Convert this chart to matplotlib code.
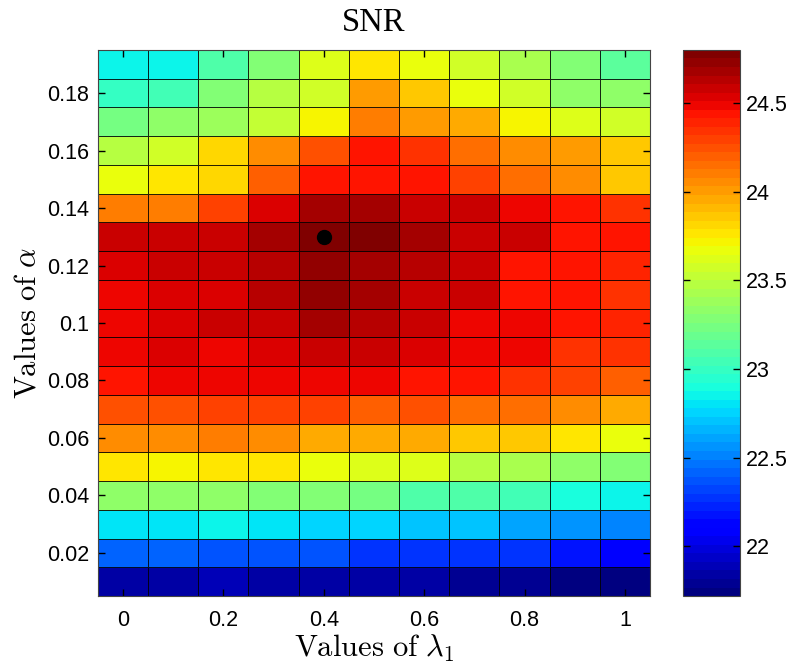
import numpy as np
import matplotlib
matplotlib.use("Agg")
import matplotlib.pyplot as plt
from matplotlib.ticker import FuncFormatter

lambdas = [0.0, 0.1, 0.2, 0.3, 0.4, 0.5, 0.6, 0.7, 0.8, 0.9, 1.0]
alphas = [0.01, 0.02, 0.03, 0.04, 0.05, 0.06, 0.07, 0.08, 0.09, 0.10,
          0.11, 0.12, 0.13, 0.14, 0.15, 0.16, 0.17, 0.18, 0.19]

# SNR values, one row per alpha (bottom to top), one column per lambda_1
snr = [
    [21.82, 21.84, 21.89, 21.86, 21.86, 21.82, 21.82, 21.79, 21.79, 21.75, 21.72],
    [22.40, 22.40, 22.39, 22.39, 22.35, 22.29, 22.25, 22.27, 22.25, 22.19, 22.07],
    [22.81, 22.81, 22.83, 22.81, 22.76, 22.74, 22.70, 22.70, 22.62, 22.57, 22.53],
    [23.34, 23.34, 23.34, 23.28, 23.28, 23.22, 23.11, 23.11, 23.06, 22.92, 22.83],
    [23.77, 23.74, 23.76, 23.76, 23.69, 23.63, 23.63, 23.49, 23.45, 23.35, 23.26],
    [24.07, 24.07, 24.11, 24.07, 23.94, 23.96, 23.96, 23.86, 23.84, 23.75, 23.69],
    [24.25, 24.27, 24.30, 24.30, 24.30, 24.21, 24.25, 24.15, 24.15, 24.07, 23.96],
    [24.46, 24.48, 24.49, 24.49, 24.50, 24.49, 24.46, 24.42, 24.36, 24.30, 24.19],
    [24.49, 24.54, 24.51, 24.55, 24.60, 24.56, 24.55, 24.51, 24.48, 24.36, 24.36],
    [24.49, 24.54, 24.56, 24.60, 24.68, 24.63, 24.58, 24.51, 24.47, 24.42, 24.40],
    [24.49, 24.53, 24.55, 24.63, 24.71, 24.66, 24.60, 24.56, 24.46, 24.42, 24.36],
    [24.53, 24.56, 24.60, 24.63, 24.71, 24.66, 24.63, 24.58, 24.46, 24.44, 24.40],
    [24.56, 24.60, 24.60, 24.66, 24.80, 24.76, 24.66, 24.60, 24.58, 24.46, 24.42],
    [24.11, 24.11, 24.31, 24.55, 24.66, 24.66, 24.60, 24.56, 24.49, 24.46, 24.36],
    [23.69, 23.77, 23.82, 24.21, 24.46, 24.46, 24.46, 24.30, 24.15, 24.07, 23.86],
    [23.47, 23.58, 23.82, 24.07, 24.27, 24.46, 24.36, 24.15, 24.07, 24.01, 23.86],
    [23.23, 23.32, 23.40, 23.52, 23.74, 24.11, 24.01, 23.96, 23.74, 23.63, 23.56],
    [22.99, 23.06, 23.28, 23.47, 23.56, 24.02, 23.86, 23.69, 23.58, 23.32, 23.32],
    [22.83, 22.83, 23.08, 23.28, 23.64, 23.77, 23.69, 23.56, 23.41, 23.28, 23.13],
]

x_ticks = [0, 0.2, 0.4, 0.6, 0.8, 1]
y_ticks = [0.02, 0.04, 0.06, 0.08, 0.1, 0.12, 0.14, 0.16, 0.18]
cbar_ticks = [22, 22.5, 23, 23.5, 24, 24.5]

plt.rcParams["mathtext.fontset"] = "cm"
serif = "Liberation Serif"
sans = "Liberation Sans"
fmt = FuncFormatter(lambda v, p: f"{v:g}")


def main():
    data = np.array(snr)
    fig = plt.figure(figsize=(7.88, 6.66), dpi=100)
    ax = fig.add_axes([0.124, 0.105, 0.701, 0.820])
    cax = fig.add_axes([0.867, 0.105, 0.072, 0.820])

    cmap = matplotlib.colormaps["jet"].resampled(64)
    mesh = ax.pcolormesh(lambdas, alphas, data, cmap=cmap, shading="nearest",
                         edgecolors=(0, 0, 0, 0.85), linewidth=0.7)

    # mark the best setting
    i, j = np.unravel_index(np.argmax(data), data.shape)
    ax.plot(lambdas[j], alphas[i], marker="o", color="black",
            markersize=10)

    ax.set_xlim(-0.05, 1.05)
    ax.set_ylim(0.005, 0.195)
    ax.set_xticks(x_ticks)
    ax.set_yticks(y_ticks)
    ax.xaxis.set_major_formatter(fmt)
    ax.yaxis.set_major_formatter(fmt)
    ax.tick_params(direction="in", top=True, right=True, length=5,
                   width=1, labelsize=15.5)
    ax.tick_params(axis="x", pad=10)
    ax.tick_params(axis="y", pad=6)
    for lab in ax.get_xticklabels() + ax.get_yticklabels():
        lab.set_family(sans)

    ax.set_title("SNR", fontsize=23.5, family=serif, pad=14)
    ax.set_xlabel(r"$\mathrm{Values\ of\ }\lambda_1$", fontsize=22,
                  labelpad=1)
    ax.set_ylabel(r"$\mathrm{Values\ of\ }\alpha$", fontsize=22,
                  labelpad=4)
    for s in ax.spines.values():
        s.set_color("#444444")

    cb = fig.colorbar(mesh, cax=cax)
    cb.set_ticks(cbar_ticks)
    cb.ax.yaxis.set_major_formatter(fmt)
    cb.ax.tick_params(direction="in", left=True, right=True, length=5,
                      width=1, labelsize=15.5, pad=4)
    for lab in cb.ax.get_yticklabels():
        lab.set_family(sans)
    cb.outline.set_edgecolor("#444444")

    fig.savefig("out.png", dpi=100)
    plt.close(fig)


if __name__ == "__main__":
    main()
